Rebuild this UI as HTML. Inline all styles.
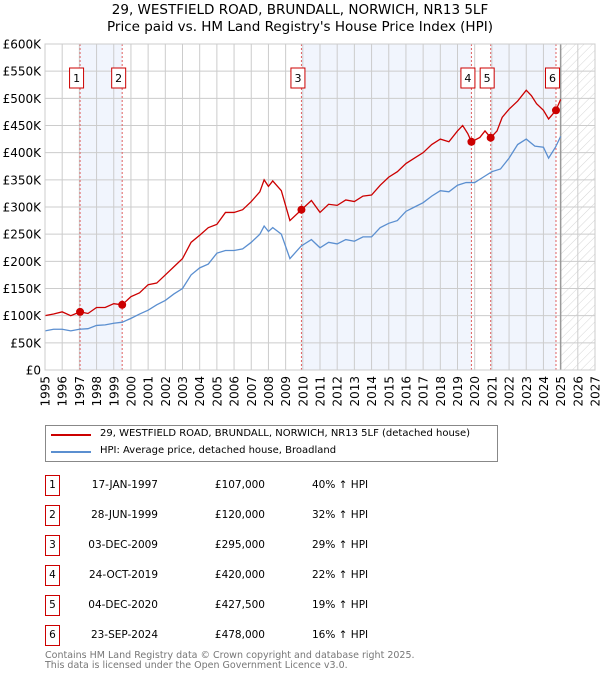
<!DOCTYPE html>
<html><head><meta charset="utf-8"><style>
body{margin:0;background:#fff;font-family:"DejaVu Sans","Liberation Sans",sans-serif;}
#wrap{position:relative;width:600px;height:680px;overflow:hidden}
svg text{font-family:"DejaVu Sans","Liberation Sans",sans-serif}
.row{position:absolute;font-size:10.5px;color:#000;height:20px;line-height:20px;white-space:nowrap}
</style></head><body><div id="wrap">
<svg id="chart" width="600" height="420" style="position:absolute;left:0;top:0">
<defs><pattern id="hatch" width="6" height="6" patternUnits="userSpaceOnUse" patternTransform="rotate(45)"><line x1="0" y1="0" x2="0" y2="6" stroke="#ccc" stroke-width="0.8"/></pattern></defs>
<text x="300" y="14" text-anchor="middle" font-size="13.5">29, WESTFIELD ROAD, BRUNDALL, NORWICH, NR13 5LF</text>
<text x="300" y="31" text-anchor="middle" font-size="13.5">Price paid vs. HM Land Registry's House Price Index (HPI)</text>
<g id="g"></g>
</svg>
<div style="position:absolute;left:45px;top:425px;width:451px;height:35px;border:1px solid #888">
<div style="position:absolute;left:5px;top:8px;width:40px;height:2px;background:#cc0000"></div>
<div style="position:absolute;left:54px;top:2px;font-size:10px;white-space:nowrap">29, WESTFIELD ROAD, BRUNDALL, NORWICH, NR13 5LF (detached house)</div>
<div style="position:absolute;left:5px;top:25px;width:40px;height:2px;background:#5b8fd0"></div>
<div style="position:absolute;left:54px;top:19px;font-size:10px;white-space:nowrap">HPI: Average price, detached house, Broadland</div>
</div>
<div id="table"></div>
<div style="position:absolute;left:45px;top:651px;font-size:9.5px;color:#777;line-height:10px;white-space:nowrap">Contains HM Land Registry data © Crown copyright and database right 2025.<br>This data is licensed under the Open Government Licence v3.0.</div>
</div>
<script>
const hpiYears=[1995,1995.5,1996,1996.5,1997,1997.5,1998,1998.5,1999,1999.5,2000,2000.5,2001,2001.5,2002,2002.5,2003,2003.5,2004,2004.5,2005,2005.5,2006,2006.5,2007,2007.5,2007.75,2008,2008.25,2008.75,2009.25,2009.9,2010.5,2011,2011.5,2012,2012.5,2013,2013.5,2014,2014.5,2015,2015.5,2016,2016.5,2017,2017.5,2018,2018.5,2019,2019.5,2020,2020.5,2021,2021.5,2022,2022.5,2023,2023.5,2024,2024.3,2024.7,2025];
const hpiValues=[72,75,75,72,75,76,82,83,86,88,95,103,110,120,128,140,150,175,188,195,215,220,220,223,235,250,265,255,262,250,205,228,240,225,235,232,240,237,245,245,262,270,275,292,300,308,320,330,328,340,345,345,355,365,370,390,415,425,412,410,390,410,430];
const propYears=[1995,1995.5,1996,1996.5,1997.04,1997.5,1998,1998.5,1999,1999.49,2000,2000.5,2001,2001.5,2002,2002.5,2003,2003.5,2004,2004.5,2005,2005.5,2006,2006.5,2007,2007.5,2007.75,2008,2008.25,2008.75,2009.25,2009.92,2010.5,2011,2011.5,2012,2012.5,2013,2013.5,2014,2014.5,2015,2015.5,2016,2016.5,2017,2017.5,2018,2018.5,2019,2019.3,2019.6,2019.81,2020.3,2020.6,2020.93,2021.3,2021.6,2022,2022.5,2023,2023.3,2023.6,2024,2024.3,2024.73,2025];
const propValues=[100,103,107,100,107,104,115,115,122,120,135,142,157,160,175,190,205,235,248,262,268,290,290,295,310,328,350,338,348,330,275,295,312,290,305,303,313,310,320,322,340,355,365,380,390,400,415,425,420,440,450,435,420,428,440,427.5,440,465,480,495,515,505,490,478,462,478,498];
const saleLabels=["1","2","3","4","5","6"];
const saleYears=[1997.04,1999.49,2009.92,2019.81,2020.93,2024.73];
const saleDates=["17-JAN-1997","28-JUN-1999","03-DEC-2009","24-OCT-2019","04-DEC-2020","23-SEP-2024"];
const salePrices=[107,120,295,420,427.5,478];
const salePriceText=["£107,000","£120,000","£295,000","£420,000","£427,500","£478,000"];
const saleHpiText=["40% ↑ HPI","32% ↑ HPI","29% ↑ HPI","22% ↑ HPI","19% ↑ HPI","16% ↑ HPI"];
const yTicks=[0,50,100,150,200,250,300,350,400,450,500,550,600];
const yTickLabels=["£0","£50K","£100K","£150K","£200K","£250K","£300K","£350K","£400K","£450K","£500K","£550K","£600K"];
const xTicks=[1995,1996,1997,1998,1999,2000,2001,2002,2003,2004,2005,2006,2007,2008,2009,2010,2011,2012,2013,2014,2015,2016,2017,2018,2019,2020,2021,2022,2023,2024,2025,2026,2027];

const X0=45,X1=595,Y0=370,Y1=44;
const x=v=>X0+(v-1995)/(2027-1995)*(X1-X0);
const y=v=>Y0-v/600*(Y0-Y1);
const NS="http://www.w3.org/2000/svg";
const g=document.getElementById('g');
function mk(t,a,p){const e=document.createElementNS(NS,t);for(const k in a)e.setAttribute(k,a[k]);(p||g).appendChild(e);return e;}
[[0,1],[2,3],[4,5]].forEach(([a,b])=>{
 const r=mk('rect',{x:x(saleYears[a]),y:Y1,width:x(saleYears[b])-x(saleYears[a]),height:Y0-Y1,fill:'#eef3fd',opacity:0.8});
 
 
});
const hz=mk('rect',{x:x(2025),y:Y1,width:X1-x(2025),height:Y0-Y1,fill:'url(#hatch)'});


xTicks.forEach(t=>{
 const l=mk('line',{x1:x(t),x2:x(t),y1:Y1,y2:Y0,stroke:'#ccc','stroke-width':1});
 
 
 const tx=mk('text',{x:0,y:0,'font-size':12,'text-anchor':'end',transform:`translate(${x(t)+4.5},${Y0+6}) rotate(-90)`});
 tx.textContent=t;
 
 
});
yTicks.forEach((t,i)=>{
 const l=mk('line',{x1:X0,x2:X1,y1:y(t),y2:y(t),stroke:'#ccc','stroke-width':1});
 
 
 const tx=mk('text',{x:X0-4,y:y(t)+4.5,'font-size':12,'text-anchor':'end'});
 tx.textContent=yTickLabels[i];
 
 
});
const nl=mk('line',{x1:x(2025),x2:x(2025),y1:Y1,y2:Y0,stroke:'#999','stroke-width':1.5});


saleYears.forEach((s,i)=>{
 const l=mk('line',{x1:x(s),x2:x(s),y1:Y1,y2:Y0,stroke:'#e06060','stroke-width':1,'stroke-dasharray':'2,2'});
 
 
 const bx=mk('rect',{x:x(s)-10.5,y:68,width:14,height:20,fill:'#fff',stroke:'#cc0000','stroke-width':1});
 
 
 const t=mk('text',{x:x(s)-3.5,y:82,'font-size':11,'text-anchor':'middle'});
 t.textContent=saleLabels[i];
 
 
});
const hp=mk('polyline',{points:hpiYears.map((v,i)=>x(v)+','+y(hpiValues[i])).join(' '),fill:'none',stroke:'#5b8fd0','stroke-width':1.3});


const pp=mk('polyline',{points:propYears.map((v,i)=>x(v)+','+y(propValues[i])).join(' '),fill:'none',stroke:'#cc0000','stroke-width':1.3});


saleYears.forEach((s,i)=>{
 const c=mk('circle',{cx:x(s),cy:y(salePrices[i]),r:4,fill:'#cc0000'});
 
 
});
const fr=mk('rect',{x:X0,y:Y1,width:X1-X0,height:Y0-Y1,fill:'none',stroke:'#ccc'});


const tb=document.getElementById('table');
saleLabels.forEach((l,i)=>{
 const top=475+i*30;
 const b=document.createElement('div');b.className='row';
 b.style.cssText=`left:45px;top:${top}px;width:13px;height:19px;border:1px solid #cc0000;text-align:center;line-height:19px`;
 b.textContent=l;
 
 
 tb.appendChild(b);
 const d=document.createElement('div');d.className='row';
 d.style.cssText=`left:60px;top:${top}px;width:98px;text-align:right`;
 d.textContent=saleDates[i];
 
 
 tb.appendChild(d);
 const p=document.createElement('div');p.className='row';
 p.style.cssText=`left:180px;top:${top}px;width:85px;text-align:right`;
 p.textContent=salePriceText[i];
 
 
 tb.appendChild(p);
 const h=document.createElement('div');h.className='row';
 h.style.cssText=`left:312px;top:${top}px`;
 h.textContent=saleHpiText[i];
 
 
 tb.appendChild(h);
});
</script></body></html>
